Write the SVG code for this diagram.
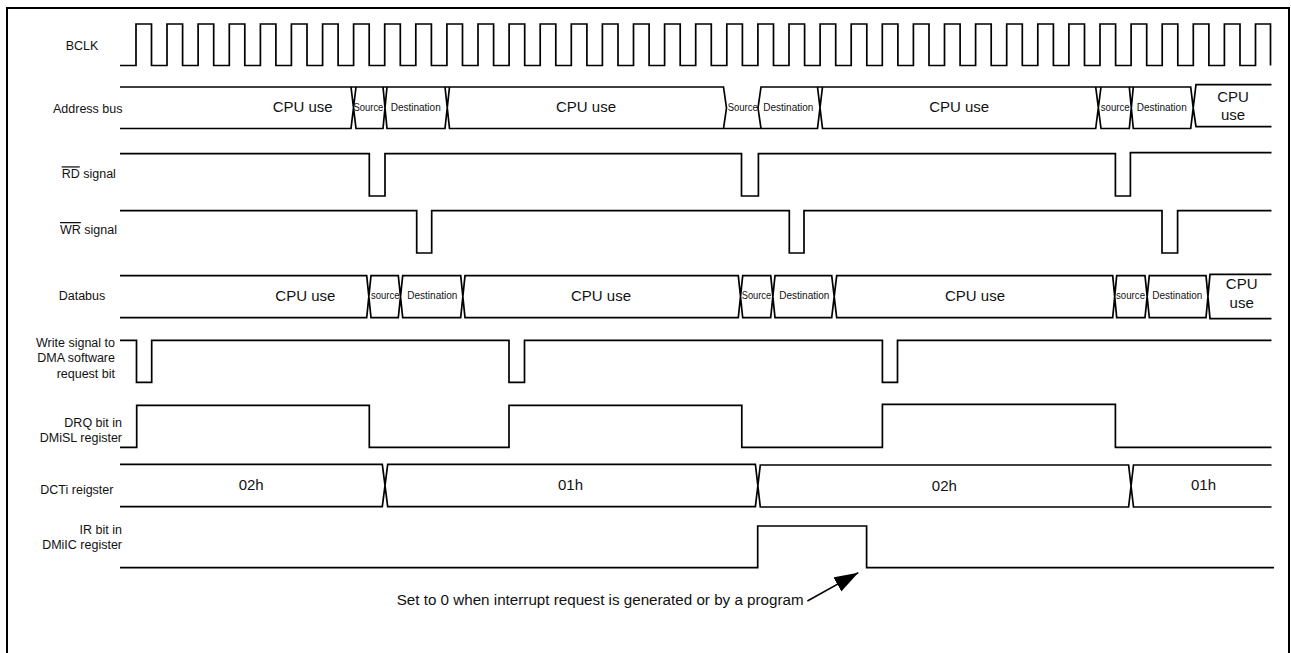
<svg xmlns="http://www.w3.org/2000/svg" width="1291" height="653" viewBox="0 0 1291 653">
<style>
.w{fill:none;stroke:#000;stroke-width:1.7;stroke-linejoin:miter}
text{font-family:"Liberation Sans",Arial,sans-serif;fill:#111}
.l{font-size:12.5px}
.b{font-size:15px}
.n{font-size:15.2px}
.t{font-size:10px}
.s{font-size:10.5px}
.r{text-anchor:end}
.c{text-anchor:middle}
</style>
<defs>
<marker id="ah" markerUnits="userSpaceOnUse" markerWidth="26" markerHeight="18" refX="24" refY="8.5" orient="auto"><path d="M0 0.4L24 8.5L0 16.6Z" fill="#000"/></marker>
</defs>
<rect width="1291" height="653" fill="#fff"/>
<path id="frame" d="M7 653V8H1289V653" fill="none" stroke="#000" stroke-width="2"/>
<g id="bclk">
<text x="65.7" y="50" class="l">BCLK</text>
<path class="w" d="M120 65.5H136V24H151.5V65.5H167V24H182.6V65.5H198.1V24H213.7V65.5H229.3V24H244.8V65.5H260.4V24H275.9V65.5H291.4V24H307V65.5H322.6V24H338.1V65.5H353.6V24H369.2V65.5H384.7V24H400.3V65.5H415.8V24H431.4V65.5H446.9V24H462.5V65.5H478V24H493.6V65.5H509.1V24H524.7V65.5H540.2V24H555.8V65.5H571.3V24H586.9V65.5H602.4V24H618V65.5H633.5V24H649.1V65.5H664.6V24H680.2V65.5H695.7V24H711.3V65.5H726.8V24H742.4V65.5H757.9V24H773.5V65.5H789V24H804.6V65.5H820.1V24H835.7V65.5H851.2V24H866.8V65.5H882.3V24H897.9V65.5H913.4V24H929V65.5H944.5V24H960.1V65.5H975.6V24H991.2V65.5H1006.7V24H1022.3V65.5H1037.8V24H1053.4V65.5H1068.9V24H1084.5V65.5H1100V24H1115.6V65.5H1131.1V24H1146.7V65.5H1162.2V24H1177.8V65.5H1193.3V24H1208.9V65.5H1224.4V24H1240V65.5H1255.5V24H1270.5V65.5"/>
</g>
<g id="address-bus">
<text x="53" y="113.3" class="l">Address bus</text>
<path class="w" d="M120 87H351L356 128.5H383L387 87H445L449.5 128.5H723.5L726.5 108L723.5 87H120M120 128.5H351L356 87H383L387 128.5H445L449.5 87H723.5M723.5 128.5H761L758 108L761 87H817.5L822.5 128.5H1095.7L1101 87H1129.3L1133.3 128.5H1190.7L1193.2 108L1190.7 87H817.5M761 128.5H817.5L822.5 87H1095.7L1101 128.5H1129.3L1133.3 87H1190.7M1190.7 128.5L1193.2 108L1196 84.7H1271.5M1193.2 108L1196 126.7H1271.5"/>
<text x="272.7" y="112.3" class="b">CPU use</text>
<text x="353.4" y="110.7" class="s" textLength="30" lengthAdjust="spacingAndGlyphs">Source</text>
<text x="390.7" y="110.7" class="t">Destination</text>
<text x="556" y="112.3" class="b">CPU use</text>
<text x="727.7" y="110.7" class="s" textLength="30" lengthAdjust="spacingAndGlyphs">Source</text>
<text x="763.3" y="110.7" class="t">Destination</text>
<text x="929.2" y="112.3" class="b">CPU use</text>
<text x="1100.7" y="110.7" class="s" textLength="29" lengthAdjust="spacingAndGlyphs">source</text>
<text x="1136.7" y="110.7" class="t">Destination</text>
<text x="1233" y="101.7" class="b c">CPU</text>
<text x="1233" y="120" class="b c">use</text>
</g>
<g id="rd-signal">
<text x="61.7" y="178.3" class="l"><tspan text-decoration="overline">RD</tspan> signal</text>
<path class="w" d="M120 153.7H369.3V196H385V153.7H741.5V196H758.4V153.7H1115.4V196H1130.4V152.7H1271.5"/>
</g>
<g id="wr-signal">
<text x="60" y="234" class="l"><tspan text-decoration="overline">WR</tspan> signal</text>
<path class="w" d="M120 210.7H416.7V253H431.7V210.7H789.3V253H804V210.7H1162V253H1177.6V210.7H1271.5"/>
</g>
<g id="databus">
<text x="58.7" y="300" class="l">Databus</text>
<path class="w" d="M120 275.7H366.7L371 317.7H398.3L402.7 275.7H460.7L465 317.7H738.3L742.7 275.7H770.7L775 317.7H831.7L836.7 275.7H1112.7L1116.7 317.7H1145L1149.3 275.7H1206L1210 318.7H1271.5M120 317.7H366.7L371 275.7H398.3L402.7 317.7H460.7L465 275.7H738.3L742.7 317.7H770.7L775 275.7H831.7L836.7 317.7H1112.7L1116.7 275.7H1145L1149.3 317.7H1206L1210 274.3H1271.5"/>
<text x="275.3" y="301" class="b">CPU use</text>
<text x="371" y="299.3" class="s" textLength="28.5" lengthAdjust="spacingAndGlyphs">source</text>
<text x="407.3" y="299.3" class="t">Destination</text>
<text x="571" y="301" class="b">CPU use</text>
<text x="741.7" y="299.3" class="s" textLength="29.5" lengthAdjust="spacingAndGlyphs">Source</text>
<text x="779.3" y="299.3" class="t">Destination</text>
<text x="945" y="301" class="b">CPU use</text>
<text x="1116" y="299.3" class="s" textLength="29" lengthAdjust="spacingAndGlyphs">source</text>
<text x="1152.3" y="299.3" class="t">Destination</text>
<text x="1241.7" y="289.3" class="b c">CPU</text>
<text x="1241.7" y="308.3" class="b c">use</text>
</g>
<g id="write-signal">
<text x="115" y="346.7" class="l r">Write signal to</text>
<text x="115" y="362.3" class="l r">DMA software</text>
<text x="115" y="378.3" class="l r">request bit</text>
<path class="w" d="M120 340.3H136.5V382.3H151.7V340.3H509V382.3H524.5V340.3H882.4V382.3H897.5V340.3H1271.5"/>
</g>
<g id="drq-bit">
<text x="122" y="426.7" class="l r">DRQ bit in</text>
<text x="122" y="442.3" class="l r">DMiSL register</text>
<path class="w" d="M120 447.3H136.7V405.3H369.3V447.3H509V405.3H741.8V447.3H882.4V404.3H1115.4V447.3H1271.5"/>
</g>
<g id="dcti-register">
<text x="40.3" y="494" class="l">DCTi reigster</text>
<path class="w" d="M120 464.3H382.3L387.7 506.7H755.4L760.3 465H1128.6L1133.5 507H1271.5M120 506.7H382.3L387.7 464.3H755.4L760.3 507H1128.6L1133.5 465H1271.5"/>
<text x="238.7" y="490" class="b">02h</text>
<text x="558" y="490" class="b">01h</text>
<text x="931.8" y="491" class="b">02h</text>
<text x="1191" y="490" class="b">01h</text>
</g>
<g id="ir-bit">
<text x="122" y="534" class="l r">IR bit in</text>
<text x="122" y="549" class="l r">DMiIC register</text>
<path class="w" d="M120 567.7H757.7V526H866.6V567.7H1274"/>
</g>
<text id="note" x="396.7" y="605" class="n">Set to 0 when interrupt request is generated or by a program</text>
<g id="connectors">
<line x1="807.4" y1="601" x2="858.3" y2="572.7" stroke="#000" stroke-width="1.5" marker-end="url(#ah)"/>
</g>
</svg>
